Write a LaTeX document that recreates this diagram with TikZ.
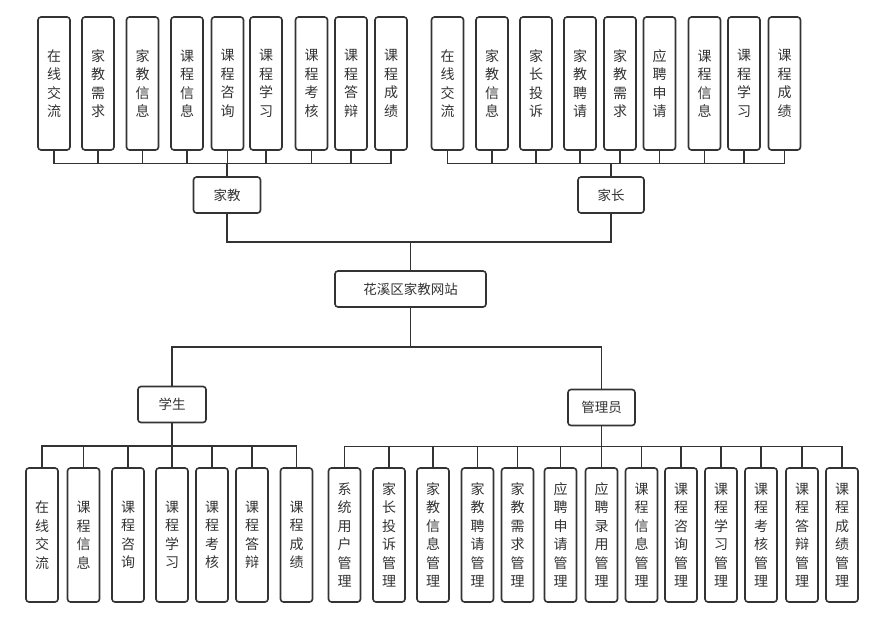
\documentclass[tikz,border=0pt]{standalone}
\usepackage{fontspec}
\setmainfont{Noto Sans CJK SC}
\definecolor{lc}{HTML}{333333}
\definecolor{tc}{HTML}{333333}
\begin{document}
\begin{tikzpicture}[x=1pt,y=-1pt,
  vbox/.style={draw=lc, line width=1.6pt, rounded corners=3pt, minimum width=32pt, text=tc,
    align=center, inner sep=0pt, font=\fontsize{14}{18.5}\selectfont},
  topbox/.style={vbox, minimum height=133pt},
  botbox/.style={vbox, minimum height=134pt},
  hbox/.style={draw=lc, line width=1.6pt, rounded corners=3pt, minimum height=36pt, text=tc,
    inner sep=0pt, font=\fontsize{13.5}{16}\selectfont},
  conn/.style={draw=lc, line width=1.4pt}]
\useasboundingbox (0,0) rectangle (882,624);
% top left group
\node[topbox] (a1) at (54,83.5) {在\\线\\交\\流};
\node[topbox] (a2) at (98,83.5) {家\\教\\需\\求};
\node[topbox] (a3) at (142.5,83.5) {家\\教\\信\\息};
\node[topbox] (a4) at (187,83.5) {课\\程\\信\\息};
\node[topbox] (a5) at (227.5,83.5) {课\\程\\咨\\询};
\node[topbox] (a6) at (266,83.5) {课\\程\\学\\习};
\node[topbox] (a7) at (311.5,83.5) {课\\程\\考\\核};
\node[topbox] (a8) at (351,83.5) {课\\程\\答\\辩};
\node[topbox] (a9) at (391,83.5) {课\\程\\成\\绩};
% top right group
\node[topbox] (b1) at (447.5,83.5) {在\\线\\交\\流};
\node[topbox] (b2) at (492,83.5) {家\\教\\信\\息};
\node[topbox] (b3) at (536,83.5) {家\\长\\投\\诉};
\node[topbox] (b4) at (580,83.5) {家\\教\\聘\\请};
\node[topbox] (b5) at (620,83.5) {家\\教\\需\\求};
\node[topbox] (b6) at (659.5,83.5) {应\\聘\\申\\请};
\node[topbox] (b7) at (704.5,83.5) {课\\程\\信\\息};
\node[topbox] (b8) at (744,83.5) {课\\程\\学\\习};
\node[topbox] (b9) at (784.5,83.5) {课\\程\\成\\绩};
% middle
\node[hbox, minimum width=67pt] (jj) at (227,195) {家教};
\node[hbox, minimum width=66pt] (jz) at (611,195) {家长};
\node[hbox, minimum width=151pt] (root) at (410.5,289) {花溪区家教网站};
\node[hbox, minimum width=68pt] (xs) at (172,404.5) {学生};
\node[hbox, minimum width=67pt] (gl) at (601.5,407.5) {管理员};
% bottom left
\node[botbox] (c1) at (42,535) {在\\线\\交\\流};
\node[botbox] (c2) at (83.5,535) {课\\程\\信\\息};
\node[botbox] (c3) at (128,535) {课\\程\\咨\\询};
\node[botbox] (c4) at (172,535) {课\\程\\学\\习};
\node[botbox] (c5) at (212,535) {课\\程\\考\\核};
\node[botbox] (c6) at (252,535) {课\\程\\答\\辩};
\node[botbox] (c7) at (296.5,535) {课\\程\\成\\绩};
% bottom right
\node[botbox] (d1) at (344.5,535) {系\\统\\用\\户\\管\\理};
\node[botbox] (d2) at (389,535) {家\\长\\投\\诉\\管\\理};
\node[botbox] (d3) at (433,535) {家\\教\\信\\息\\管\\理};
\node[botbox] (d4) at (477.5,535) {家\\教\\聘\\请\\管\\理};
\node[botbox] (d5) at (517.5,535) {家\\教\\需\\求\\管\\理};
\node[botbox] (d6) at (560.5,535) {应\\聘\\申\\请\\管\\理};
\node[botbox] (d7) at (601.5,535) {应\\聘\\录\\用\\管\\理};
\node[botbox] (d8) at (641.5,535) {课\\程\\信\\息\\管\\理};
\node[botbox] (d9) at (681,535) {课\\程\\咨\\询\\管\\理};
\node[botbox] (d10) at (721,535) {课\\程\\学\\习\\管\\理};
\node[botbox] (d11) at (761,535) {课\\程\\考\\核\\管\\理};
\node[botbox] (d12) at (802,535) {课\\程\\答\\辩\\管\\理};
\node[botbox] (d13) at (842,535) {课\\程\\成\\绩\\管\\理};
% connectors top
\foreach \n in {a1,a2,a3,a4,a5,a6,a7,a8,a9}
  \draw[conn] (jj.north) -- ++(0,-13) -| (\n.south);
\foreach \n in {b1,b2,b3,b4,b5,b6,b7,b8,b9}
  \draw[conn] (jz.north) -- ++(0,-13) -| (\n.south);
\coordinate (j1) at (410.5,242);
\draw[conn] (jj.south) |- (j1) -| (jz.south);
\draw[conn] (j1) -- (root.north);
\coordinate (j2) at (410.5,347);
\draw[conn] (root.south) -- (j2);
\draw[conn] (xs.north) |- (j2) -| (gl.north);
% connectors bottom
\foreach \n in {c1,c2,c3,c4,c5,c6,c7}
  \draw[conn] (xs.south) -- ++(0,22.5) -| (\n.north);
\foreach \n in {d1,d2,d3,d4,d5,d6,d7,d8,d9,d10,d11,d12,d13}
  \draw[conn] (gl.south) -- ++(0,20) -| (\n.north);
\end{tikzpicture}
\end{document}
